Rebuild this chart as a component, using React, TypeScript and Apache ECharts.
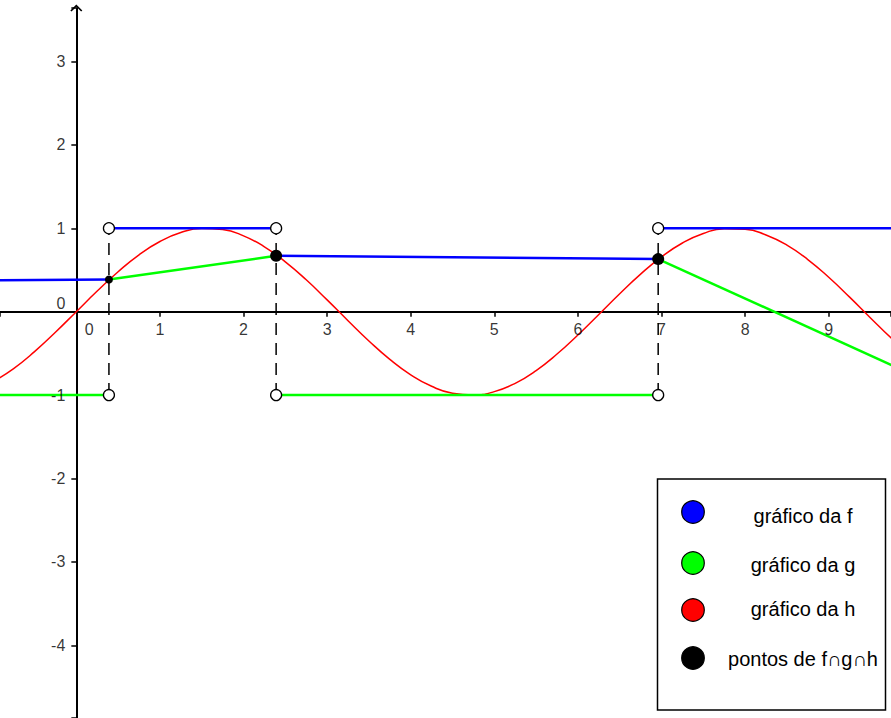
import React, { useEffect, useRef } from "react";
import * as echarts from "echarts";

// ---- data ----
const hX = [-1, -0.75, -0.5, -0.25, 0, 0.25, 0.5, 0.75, 1, 1.25, 1.5, 1.75, 2, 2.25, 2.5, 2.75, 3, 3.25, 3.5, 3.75, 4, 4.25, 4.5, 4.75, 5, 5.25, 5.5, 5.75, 6, 6.25, 6.5, 6.75, 7, 7.25, 7.5, 7.75, 8, 8.25, 8.5, 8.75, 9, 9.25, 9.5, 9.75, 10];
const hY = [-0.841, -0.682, -0.479, -0.247, 0, 0.247, 0.479, 0.682, 0.841, 0.949, 0.997, 0.984, 0.909, 0.778, 0.598, 0.382, 0.141, -0.108, -0.351, -0.572, -0.757, -0.895, -0.978, -0.999, -0.959, -0.859, -0.706, -0.508, -0.279, -0.033, 0.215, 0.45, 0.657, 0.823, 0.938, 0.995, 0.989, 0.919, 0.798, 0.625, 0.412, 0.174, -0.075, -0.319, -0.544];

const intersectionX = [0.39, 2.39, 6.96];
const intersectionY = [0.385, 0.67, 0.63];

const fSegments = [
  [[-1, 0.377], [0.39, 0.385]],
  [[0.39, 1], [2.39, 1]],
  [[2.39, 0.67], [6.96, 0.63]],
  [[6.96, 1], [10, 1]],
];
const gSegments = [
  [[-1, -1], [0.39, -1]],
  [[0.39, 0.385], [2.39, 0.67]],
  [[2.39, -1], [6.96, -1]],
  [[6.96, 0.63], [9.8, -0.662]],
];
const openCircles = [
  [0.39, 1], [2.39, 1], [6.96, 1],
  [0.39, -1], [2.39, -1], [6.96, -1],
];
const dashTop = 1;
const dashBottom = -1;

const xRange = [-0.913, 9.745];
const yRange = [-4.872, 3.641];
const origin = [0, 0];
const xTickLabels = [1, 2, 3, 4, 5, 6, 7, 8, 9];
const yTickLabels = [-4, -3, -2, -1, 1, 2, 3];
const originLabel = "0";

const legendLabels = ["gráfico da f", "gráfico da g", "gráfico da h", "pontos de f∩g∩h"];
const legendColors = ["#0000ff", "#00ff00", "#ff0000", "#000000"];

const FONT = "Liberation Sans, Arial, Helvetica, sans-serif";

export default function App() {
  const ref = useRef<HTMLDivElement>(null);
  useEffect(() => {
    if (!ref.current) return;
    const chart = echarts.init(ref.current, null, { renderer: "svg" });

    const intPoints = intersectionX.map((x, i) => [x, intersectionY[i]]);
    const lineSeries = (data: number[][], color: string, width: number, z: number, dashed?: boolean) => ({
      type: "line",
      data,
      showSymbol: false,
      symbol: "none",
      silent: true,
      z,
      lineStyle: dashed ? { color, width, type: [12, 8] } : { color, width },
    });

    const labelSeries = (data: number[][], fmt: (p: any) => string, offset: number[], align: string) => ({
      type: "scatter",
      data,
      symbolSize: 1,
      silent: true,
      z: 7,
      itemStyle: { color: "transparent" },
      label: {
        show: true,
        position: "inside",
        formatter: fmt,
        offset,
        color: "#000",
        fontSize: 16,
        fontWeight: "normal",
        fontFamily: FONT,
        align,
        verticalAlign: "middle",
      },
    });

    const legendY = [512, 563, 610, 658];
    const legendTextY = [516, 565, 609, 659];

    const option: any = {
      animation: false,
      backgroundColor: "#ffffff",
      grid: { left: 0, right: 0, top: 8, bottom: 0, containLabel: false, outerBoundsMode: "none" },
      xAxis: {
        type: "value",
        min: xRange[0],
        max: xRange[1],
        minInterval: 1,
        maxInterval: 1,
        splitLine: { show: false },
        axisLine: { show: true, onZero: true, lineStyle: { color: "#000", width: 2 } },
        axisTick: { show: true, length: 5, lineStyle: { color: "#000", width: 1.5 } },
        axisLabel: { show: false },
      },
      yAxis: {
        type: "value",
        min: yRange[0],
        max: yRange[1],
        minInterval: 1,
        maxInterval: 1,
        splitLine: { show: false },
        axisLine: {
          show: true,
          onZero: true,
          lineStyle: { color: "#000", width: 2 },
          symbol: ["none", "path://M0 10 L10 0 L20 10 L18 11.5 L10 3.5 L2 11.5 Z"],
          symbolSize: [12, 7],
        },
        axisTick: { show: true, length: 5, lineStyle: { color: "#000", width: 1.5 } },
        axisLabel: { show: false },
      },
      series: [
        {
          type: "line",
          data: hX.map((x, i) => [x, hY[i]]),
          smooth: true,
          showSymbol: false,
          symbol: "none",
          silent: true,
          z: 1,
          lineStyle: { color: "#ff0000", width: 1.5 },
        },
        ...intersectionX.map((x) => lineSeries([[x, dashBottom], [x, dashTop]], "#000000", 1.5, 2, true)),
        ...fSegments.map((s) => lineSeries(s, "#0000ff", 2.5, 3)),
        ...gSegments.map((s) => lineSeries(s, "#00ff00", 2.5, 3)),
        {
          type: "scatter",
          data: openCircles,
          symbol: "circle",
          symbolSize: 11,
          silent: true,
          z: 5,
          itemStyle: { color: "#ffffff", borderColor: "#000000", borderWidth: 1.3, opacity: 1 },
        },
        {
          type: "scatter",
          data: intPoints,
          symbol: "circle",
          symbolSize: (_v: any, p: any) => (p.dataIndex === 0 ? 8 : 12),
          silent: true,
          z: 6,
          itemStyle: { color: "#000000", opacity: 1 },
        },
        labelSeries(xTickLabels.map((v) => [v, 0]), (p) => String(p.value[0]), [0, 18], "center"),
        labelSeries(yTickLabels.map((v) => [0, v]), (p) => String(p.value[1]), [-11, 0], "right"),
        labelSeries([origin], () => originLabel, [-11, -8], "right"),
        labelSeries([origin], () => originLabel, [13, 18], "center"),
      ],
      graphic: [
        {
          type: "rect",
          shape: { x: 657.5, y: 479, width: 228, height: 231 },
          style: { fill: "#ffffff", stroke: "#000000", lineWidth: 1.5 },
          z: 100,
        },
        ...legendLabels.map((_, i) => ({
          type: "circle",
          shape: { cx: 693, cy: legendY[i], r: 11.3 },
          style: { fill: legendColors[i], stroke: "#000000", lineWidth: 1.2 },
          z: 101,
        })),
        ...legendLabels.map((t, i) => ({
          type: "text",
          x: 803,
          y: legendTextY[i],
          style: {
            text: t,
            fill: "#000000",
            font: `20px ${FONT}`,
            textAlign: "center",
            textVerticalAlign: "middle",
          },
          z: 101,
        })),
      ],
    };
    chart.setOption(option);
    return () => chart.dispose();
  }, []);

  return (
    <div
      ref={ref}
      style={{ position: "fixed", left: 0, top: 0, width: 891, height: 718, background: "#fff" }}
    />
  );
}
